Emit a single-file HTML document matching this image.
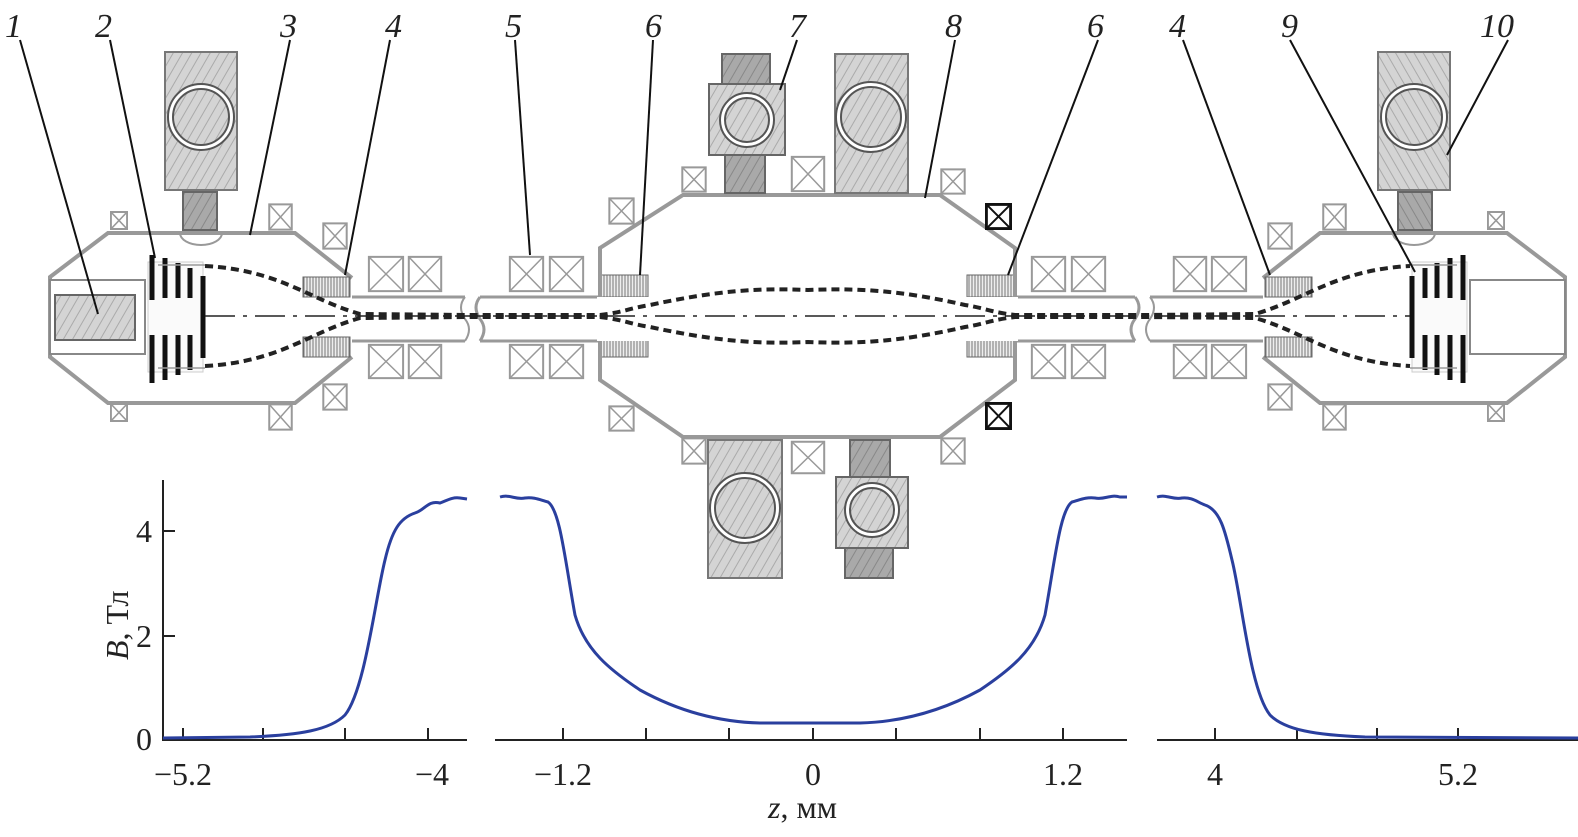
<!DOCTYPE html>
<html><head><meta charset="utf-8"><style>
html,body{margin:0;padding:0;background:#fff;}
svg{display:block;}
text{font-family:"Liberation Serif",serif;fill:#222;}
</style></head><body>
<svg width="1578" height="837" viewBox="0 0 1578 837" xmlns="http://www.w3.org/2000/svg">
<defs>
<pattern id="h" width="8" height="8" patternUnits="userSpaceOnUse" patternTransform="rotate(30)">
<rect width="8" height="8" fill="#d4d4d4"/><line x1="0" y1="0" x2="0" y2="8" stroke="#aaa" stroke-width="2"/></pattern>
<pattern id="hd" width="8" height="8" patternUnits="userSpaceOnUse" patternTransform="rotate(30)">
<rect width="8" height="8" fill="#a9a9a9"/><line x1="0" y1="0" x2="0" y2="8" stroke="#888" stroke-width="2"/></pattern>
<pattern id="v" width="3" height="10" patternUnits="userSpaceOnUse">
<rect width="3" height="10" fill="#eee"/><line x1="1" y1="0" x2="1" y2="10" stroke="#777" stroke-width="1"/></pattern>
<symbol id="xb" viewBox="0 0 10 10" preserveAspectRatio="none">
<rect x="0.5" y="0.5" width="9" height="9" fill="#fff" stroke="#999" stroke-width="2" vector-effect="non-scaling-stroke"/>
<path d="M0.5 0.5L9.5 9.5M9.5 0.5L0.5 9.5" stroke="#999" stroke-width="1.5" vector-effect="non-scaling-stroke"/></symbol>
<symbol id="xk" viewBox="0 0 10 10" preserveAspectRatio="none">
<rect x="0.5" y="0.5" width="9" height="9" fill="#fff" stroke="#111" stroke-width="3" vector-effect="non-scaling-stroke"/>
<path d="M0.5 0.5L9.5 9.5M9.5 0.5L0.5 9.5" stroke="#111" stroke-width="2" vector-effect="non-scaling-stroke"/></symbol>
<g id="half">
<path d="M352 278 L295 233 L108 233 L50 277 L50 357 L108 403 L295 403 L352 357" fill="none" stroke="#999" stroke-width="4"/>
<path d="M352 297 L465 297 M352 341 L465 341" stroke="#999" stroke-width="3"/>
<path d="M465 297 q-8 10 0 22 q8 10 0 22" fill="none" stroke="#999" stroke-width="2"/>
<path d="M480 297 q-8 10 0 22 q8 10 0 22 M480 297 L600 297 M480 341 L600 341" fill="none" stroke="#999" stroke-width="3"/>
<rect x="50" y="280" width="95" height="74" fill="#fff" stroke="#888" stroke-width="2"/>
<rect x="148" y="262" width="55" height="110" fill="#fafafa" stroke="#ccc" stroke-width="1"/>
<path d="M152 255V300M152 335V383M165 258V298M165 335V380M178 263V298M178 335V375M190 268V298M190 335V370M203 276V358" stroke="#111" stroke-width="5"/>
<path d="M158 265H205M158 368H205" stroke="#999" stroke-width="1.5"/>
<rect x="303" y="277" width="47" height="20" fill="url(#v)" stroke="#666"/>
<rect x="303" y="337" width="47" height="20" fill="url(#v)" stroke="#666"/>
<rect x="601" y="275" width="47" height="22" fill="url(#v)" stroke="#666"/>
<rect x="601" y="335" width="47" height="22" fill="url(#v)" stroke="#666"/>
<use href="#xb" x="110" y="211" width="18" height="19"/>
<use href="#xb" x="268" y="203" width="25" height="28"/>
<use href="#xb" x="322" y="222" width="26" height="28"/>
<use href="#xb" x="110" y="403" width="18" height="19"/>
<use href="#xb" x="268" y="403" width="25" height="28"/>
<use href="#xb" x="322" y="383" width="26" height="28"/>
<use href="#xb" x="367" y="255" width="38" height="38"/>
<use href="#xb" x="407" y="255" width="36" height="38"/>
<use href="#xb" x="367" y="343" width="38" height="37"/>
<use href="#xb" x="407" y="343" width="36" height="37"/>
<use href="#xb" x="508" y="255" width="37" height="38"/>
<use href="#xb" x="548" y="255" width="37" height="38"/>
<use href="#xb" x="508" y="343" width="37" height="37"/>
<use href="#xb" x="548" y="343" width="37" height="37"/>
<rect x="165" y="52" width="72" height="138" fill="url(#h)" stroke="#777" stroke-width="2"/>
<circle cx="201" cy="117" r="33" fill="#fff" stroke="#555" stroke-width="2"/>
<circle cx="201" cy="117" r="28" fill="url(#h)" stroke="#555" stroke-width="2"/>
<rect x="183" y="192" width="34" height="38" fill="url(#hd)" stroke="#666" stroke-width="2"/>
<path d="M180 233 a21 12 0 0 0 42 0" fill="none" stroke="#999" stroke-width="2"/>
</g>
</defs>

<use href="#half"/>
<use href="#half" transform="translate(1615 0) scale(-1 1)"/>
<rect x="55" y="295" width="80" height="45" fill="url(#h)" stroke="#666" stroke-width="2"/>

<path d="M600 380 L600 248 L683 195 L940 195 L1015 248 L1015 380 L940 437 L683 437 Z" fill="none" stroke="#999" stroke-width="4"/>
<rect x="600" y="297" width="415" height="44" fill="#fff"/>
<path d="M600 297V341M1015 297V341" stroke="#fff" stroke-width="6"/>
<use href="#xb" x="681" y="166" width="26" height="27"/>
<use href="#xb" x="790" y="155" width="36" height="38"/>
<use href="#xb" x="940" y="168" width="26" height="27"/>
<use href="#xb" x="608" y="197" width="27" height="28"/>
<use href="#xk" x="985" y="203" width="27" height="27"/>
<use href="#xb" x="681" y="437" width="26" height="28"/>
<use href="#xb" x="790" y="440" width="36" height="35"/>
<use href="#xb" x="940" y="437" width="26" height="28"/>
<use href="#xb" x="608" y="405" width="27" height="27"/>
<use href="#xk" x="985" y="402" width="27" height="28"/>
<rect x="722" y="54" width="48" height="30" fill="url(#hd)" stroke="#666" stroke-width="2"/>
<rect x="725" y="155" width="40" height="38" fill="url(#hd)" stroke="#666" stroke-width="2"/>
<rect x="709" y="84" width="76" height="71" fill="url(#h)" stroke="#666" stroke-width="2"/>
<circle cx="747" cy="120" r="27" fill="#fff" stroke="#555" stroke-width="2"/>
<circle cx="747" cy="120" r="22" fill="url(#h)" stroke="#555" stroke-width="2"/>
<rect x="835" y="54" width="73" height="139" fill="url(#h)" stroke="#777" stroke-width="2"/>
<circle cx="871" cy="117" r="35" fill="#fff" stroke="#555" stroke-width="2"/>
<circle cx="871" cy="117" r="30" fill="url(#h)" stroke="#555" stroke-width="2"/>
<rect x="708" y="440" width="74" height="138" fill="url(#h)" stroke="#777" stroke-width="2"/>
<circle cx="745" cy="508" r="35" fill="#fff" stroke="#555" stroke-width="2"/>
<circle cx="745" cy="508" r="30" fill="url(#h)" stroke="#555" stroke-width="2"/>
<rect x="850" y="440" width="40" height="37" fill="url(#hd)" stroke="#666" stroke-width="2"/>
<rect x="845" y="548" width="48" height="30" fill="url(#hd)" stroke="#666" stroke-width="2"/>
<rect x="836" y="477" width="72" height="71" fill="url(#h)" stroke="#666" stroke-width="2"/>
<circle cx="872" cy="510" r="27" fill="#fff" stroke="#555" stroke-width="2"/>
<circle cx="872" cy="510" r="22" fill="url(#h)" stroke="#555" stroke-width="2"/>

<line x1="205" y1="316" x2="1410" y2="316" stroke="#222" stroke-width="1.5" stroke-dasharray="30 8 4 8"/>
<g fill="none" stroke="#222" stroke-width="4" stroke-dasharray="8 5">
<path d="M205 266 C280 270 310 300 360 314 L470 315 L600 315 C625 312 630 308 650 305 C720 290 760 288 808 290 C856 288 900 290 965 305 C985 308 990 312 1015 315 L1145 315 L1255 314 C1305 300 1335 270 1410 266"/>
<path d="M205 366 C280 362 310 332 360 318 L470 317 L600 317 C625 320 630 324 650 327 C720 342 760 344 808 342 C856 344 900 342 965 327 C985 324 990 320 1015 317 L1145 317 L1255 318 C1305 332 1335 362 1410 366"/>
</g>

<g stroke="#111" stroke-width="2">
<line x1="20" y1="40" x2="98" y2="314"/>
<line x1="110" y1="40" x2="155" y2="258"/>
<line x1="290" y1="40" x2="250" y2="235"/>
<line x1="390" y1="40" x2="345" y2="275"/>
<line x1="515" y1="40" x2="530" y2="255"/>
<line x1="653" y1="40" x2="640" y2="275"/>
<line x1="797" y1="40" x2="780" y2="90"/>
<line x1="955" y1="40" x2="925" y2="198"/>
<line x1="1098" y1="40" x2="1008" y2="275"/>
<line x1="1183" y1="40" x2="1270" y2="275"/>
<line x1="1290" y1="40" x2="1415" y2="272"/>
<line x1="1508" y1="40" x2="1447" y2="155"/>
</g>
<g font-size="34" font-style="italic">
<text x="5" y="37">1</text><text x="95" y="37">2</text><text x="280" y="37">3</text>
<text x="385" y="37">4</text><text x="505" y="37">5</text><text x="645" y="37">6</text>
<text x="789" y="37">7</text><text x="945" y="37">8</text><text x="1087" y="37">6</text>
<text x="1169" y="37">4</text><text x="1281" y="37">9</text><text x="1480" y="37">10</text>
</g>

<g stroke="#222" stroke-width="2" fill="none">
<path d="M163 480V740H467"/>
<path d="M495 740H1127M1157 740H1578"/>
<path d="M163 531H175M163 636H175"/>
<path d="M183 740V728M263 740V728M345 740V728M428 740V728"/>
<path d="M563 740V728M646 740V728M729 740V728M813 740V728M896 740V728M980 740V728M1063 740V728"/>
<path d="M1215 740V728M1297 740V728M1377 740V728M1458 740V728"/>
</g>
<g font-size="32">
<text x="136" y="542">4</text><text x="136" y="647">2</text><text x="136" y="750">0</text>
<text x="183" y="785" text-anchor="middle">−5.2</text>
<text x="432" y="785" text-anchor="middle">−4</text>
<text x="563" y="785" text-anchor="middle">−1.2</text>
<text x="813" y="785" text-anchor="middle">0</text>
<text x="1063" y="785" text-anchor="middle">1.2</text>
<text x="1215" y="785" text-anchor="middle">4</text>
<text x="1458" y="785" text-anchor="middle">5.2</text>
<text x="768" y="818"><tspan font-style="italic">z</tspan>, мм</text>
<text transform="translate(128 660) rotate(-90)"><tspan font-style="italic">B</tspan>, Тл</text>
</g>
<g fill="none" stroke="#2a3f9e" stroke-width="3">
<path d="M163 738 L250 737 C300 735 330 730 345 715 C365 690 375 600 385 560 C392 530 400 518 415 513 C425 510 428 500 440 503 C448 500 452 497 460 498 L467 499"/>
<path d="M500 497 C510 494 515 500 525 498 C535 497 540 500 548 502 C560 510 565 560 575 615 C585 650 610 670 640 690 C680 712 720 722 760 723 L860 723 C900 722 940 712 980 690 C1010 670 1035 650 1045 615 C1055 560 1060 510 1072 502 C1080 500 1085 497 1095 498 C1105 500 1110 494 1120 497 L1127 497"/>
<path d="M1157 497 C1167 494 1172 500 1182 498 C1192 497 1197 502 1205 505 C1220 510 1225 530 1232 560 C1242 600 1250 690 1270 715 C1285 730 1315 735 1365 737 L1578 738"/>
</g>
</svg>
</body></html>
